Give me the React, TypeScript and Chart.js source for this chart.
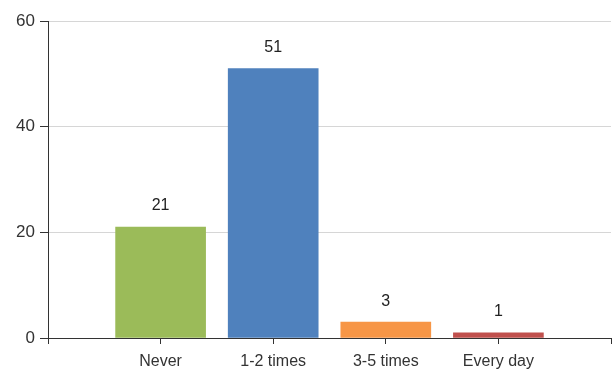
import React, { useEffect, useRef } from "react";
import { Chart, registerables } from "chart.js";

Chart.register(...registerables);

// Blank slots at both ends give the half-category margin on each side of the bars.
const categories = ["", "Never", "1-2 times", "3-5 times", "Every day", ""];
const counts = [null, 21, 51, 3, 1, null];
const barColors = ["#9BBB59", "#9BBB59", "#4F81BD", "#F79646", "#C0504D", "#C0504D"];
const yTicks = [0, 20, 40, 60];

const FONT = "'Liberation Sans', Arial, sans-serif";

const valueLabels = {
  id: "valueLabels",
  afterDatasetsDraw(chart: any) {
    const { ctx } = chart;
    const meta = chart.getDatasetMeta(0);
    ctx.save();
    ctx.font = `16px ${FONT}`;
    ctx.fillStyle = "#222";
    ctx.textAlign = "center";
    ctx.textBaseline = "middle";
    meta.data.forEach((bar: any, i: number) => {
      const v = counts[i];
      if (v == null) return;
      ctx.fillText(String(v), bar.x, bar.y - 21);
    });
    ctx.restore();
  },
};

export default function App() {
  const ref = useRef<HTMLCanvasElement>(null);

  useEffect(() => {
    document.body.style.margin = "0";
    const chart = new Chart(ref.current!, {
      type: "bar",
      data: {
        labels: categories,
        datasets: [
          {
            data: counts,
            backgroundColor: barColors,
            barThickness: 90,
          },
        ],
      },
      options: {
        animation: false,
        responsive: false,
        layout: { padding: { top: 21, right: 0, left: 0, bottom: 0 } },
        plugins: { legend: { display: false }, tooltip: { enabled: false } },
        scales: {
          x: {
            offset: false,
            grid: {
              offset: false,
              drawOnChartArea: false,
              tickColor: "#333",
              tickLength: 6,
            },
            border: { color: "#333", width: 1 },
            ticks: {
              autoSkip: false,
              maxRotation: 0,
              color: "#333",
              padding: 8,
              font: { family: FONT, size: 16 },
            },
            afterFit(scale: any) {
              scale.height = 32;
              scale.paddingRight = 4;
            },
          },
          y: {
            min: 0,
            max: 60,
            afterBuildTicks(scale: any) {
              scale.ticks = yTicks.map((v) => ({ value: v }));
            },
            grid: {
              color: "#d6d6d6",
              tickColor: "#333",
              tickLength: 8,
            },
            border: { color: "#333", width: 1 },
            ticks: {
              color: "#333",
              padding: 5,
              font: { family: FONT, size: 17 },
            },
            afterFit(scale: any) {
              scale.width = 48;
            },
          },
        },
      },
      plugins: [valueLabels],
    });
    return () => chart.destroy();
  }, []);

  return <canvas ref={ref} width={615} height={370} style={{ display: "block" }} />;
}
